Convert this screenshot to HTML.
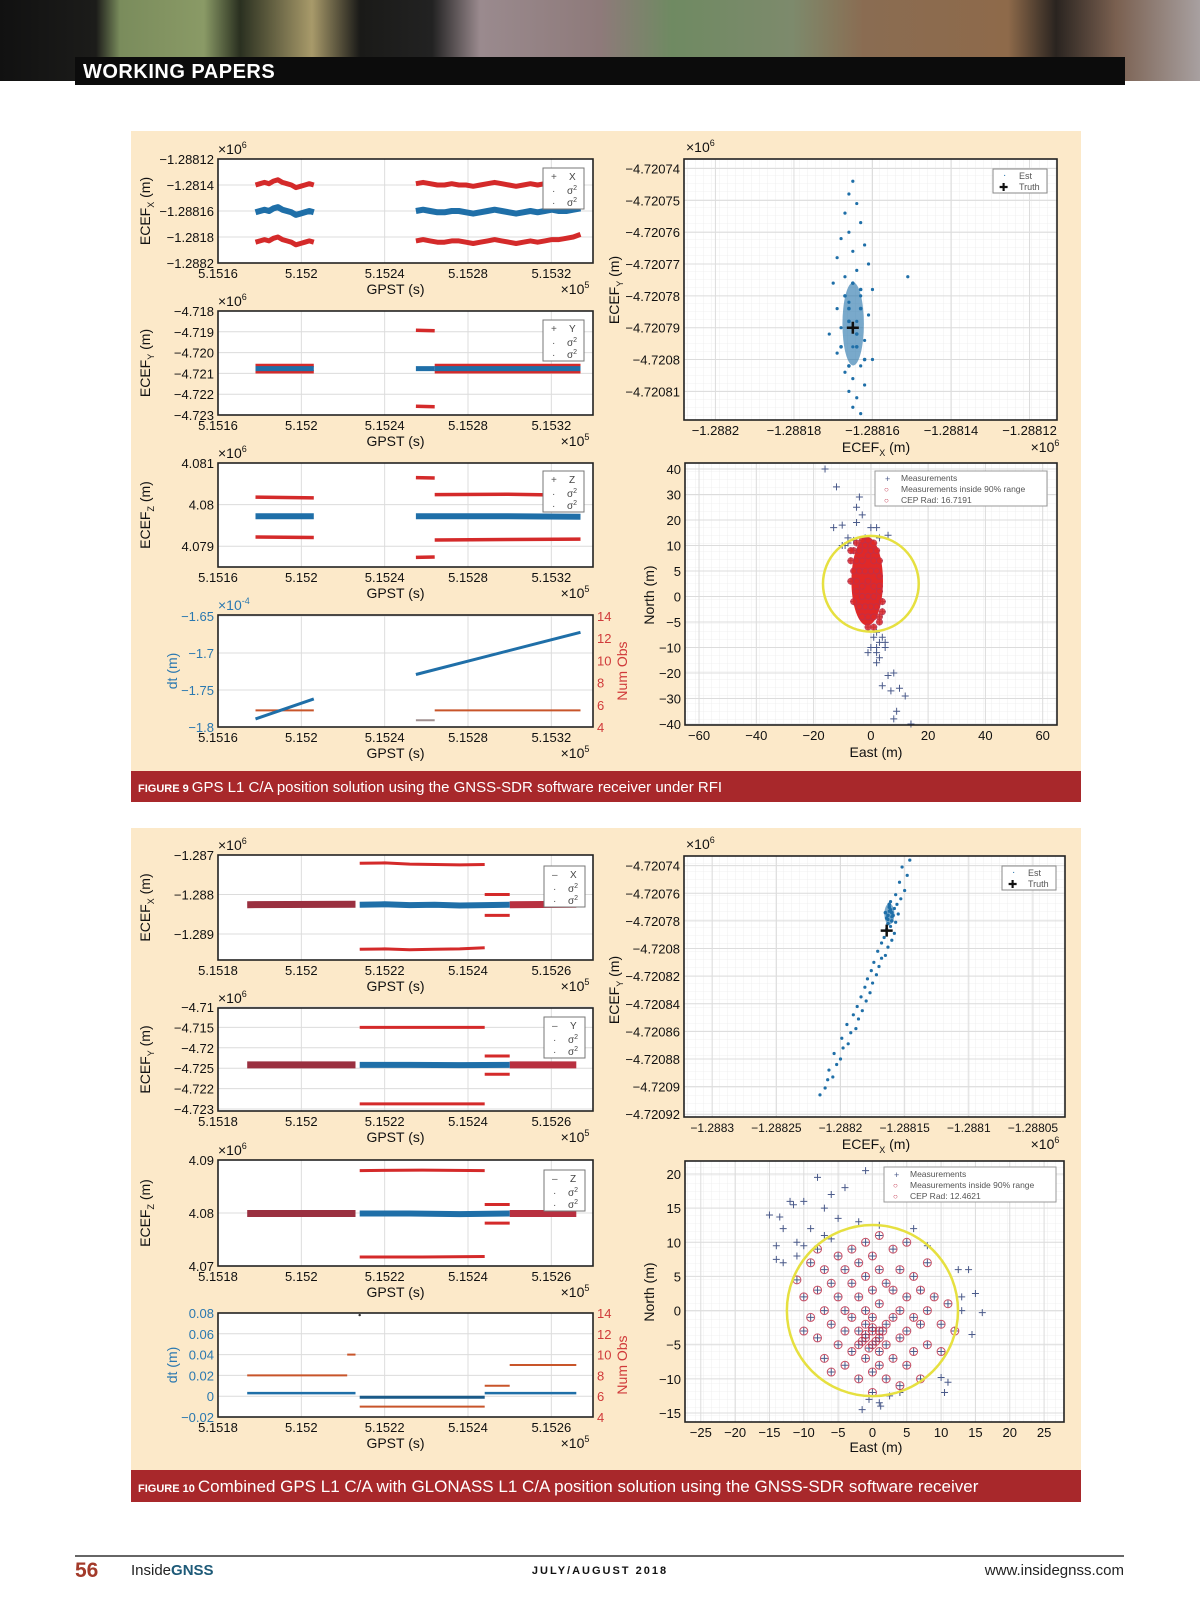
<!DOCTYPE html>
<html><head><meta charset="utf-8"><style>
html,body{margin:0;padding:0;background:#fff;}
svg{display:block;}
text{font-family:"Liberation Sans Narrow","Liberation Sans",sans-serif;}
</style></head><body>
<svg id="chart" xmlns="http://www.w3.org/2000/svg" width="1200" height="1613" viewBox="0 0 1200 1613">
<defs>
<linearGradient id="sat" x1="0" x2="1" y1="0" y2="0">
<stop offset="0" stop-color="#111"/><stop offset="0.08" stop-color="#1c1c1a"/><stop offset="0.1" stop-color="#7a8c5c"/>
<stop offset="0.17" stop-color="#8a9a66"/><stop offset="0.2" stop-color="#2a3020"/><stop offset="0.26" stop-color="#a89a6a"/>
<stop offset="0.3" stop-color="#1a1a18"/><stop offset="0.36" stop-color="#222"/><stop offset="0.4" stop-color="#9a8a8e"/>
<stop offset="0.5" stop-color="#8e7a7a"/><stop offset="0.56" stop-color="#6f8a62"/><stop offset="0.66" stop-color="#7d8a6c"/>
<stop offset="0.72" stop-color="#8a6c52"/><stop offset="0.84" stop-color="#8e6a4a"/><stop offset="0.88" stop-color="#2a2420"/>
<stop offset="0.93" stop-color="#7a6050"/><stop offset="1" stop-color="#a8a0a0"/>
</linearGradient>
<pattern id="minor" width="8" height="8" patternUnits="userSpaceOnUse"><path d="M8 0V8M0 8H8" stroke="#ececec" stroke-width="0.8" fill="none"/></pattern>
</defs>
<rect x="0" y="0" width="1200" height="81" fill="url(#sat)"/>
<rect x="75" y="57" width="1050" height="28" fill="#0c0c0c"/>
<text x="83" y="78" fill="#fff" font-size="20" font-weight="bold" letter-spacing="0.5">WORKING PAPERS</text>
<rect x="131" y="131" width="950" height="671" fill="#fce9c9"/>
<rect x="131" y="771" width="950" height="31" fill="#a8282b"/>
<text x="138" y="792" fill="#fff" font-size="15"><tspan font-size="11" font-weight="bold">FIGURE 9 </tspan>GPS L1 C/A position solution using the GNSS-SDR software receiver under RFI</text>
<rect x="131" y="828" width="950" height="674" fill="#fce9c9"/>
<rect x="131" y="1470" width="950" height="32" fill="#a8282b"/>
<text x="138" y="1492" fill="#fff" font-size="17"><tspan font-size="11" font-weight="bold">FIGURE 10 </tspan>Combined GPS L1 C/A with GLONASS L1 C/A position solution using the GNSS-SDR software receiver</text>
<line x1="75" y1="1556" x2="1124" y2="1556" stroke="#333" stroke-width="1.5"/>
<text x="75" y="1577" fill="#a33a2a" font-size="21" font-weight="bold">56</text>
<text x="131" y="1575" font-size="15" fill="#222">Inside<tspan fill="#1d5a78" font-weight="bold">GNSS</tspan></text>
<text x="600" y="1574" font-size="11" font-weight="bold" letter-spacing="2" text-anchor="middle" fill="#111">JULY/AUGUST 2018</text>
<text x="1124" y="1575" font-size="15" text-anchor="end" fill="#222">www.insidegnss.com</text>
<g id="plots"></g>
</svg>
<script>
// ---------- DATA ----------
const f9XTicks = [5.1516, 5.152, 5.1524, 5.1528, 5.1532];
const f9XTickLabels = ['5.1516', '5.152', '5.1524', '5.1528', '5.1532'];
const f9SegA = [5.15178, 5.15206];
const f9SegB = [5.15255, 5.15334];
const f9SegB1 = [5.15255, 5.15264];
const f9SegB2 = [5.15264, 5.15334];
const f9XYTicks = [-1288120, -1288140, -1288160, -1288180, -1288200];
const f9XYLabels = ['−1.28812', '−1.2814', '−1.28816', '−1.2818', '−1.2882'];
const f9XEstA = [-1288161,-1288160,-1288159,-1288160,-1288158,-1288157,-1288159,-1288160,-1288161,-1288163,-1288162,-1288161,-1288160,-1288161];
const f9XUpA = [-1288140,-1288139,-1288138,-1288139,-1288137,-1288136,-1288138,-1288139,-1288140,-1288142,-1288141,-1288140,-1288139,-1288140];
const f9XLoA = [-1288184,-1288183,-1288182,-1288183,-1288181,-1288180,-1288182,-1288183,-1288184,-1288186,-1288185,-1288184,-1288183,-1288184];
const f9XEstB = [-1288160,-1288159,-1288160,-1288161,-1288161,-1288160,-1288160,-1288161,-1288162,-1288161,-1288160,-1288159,-1288160,-1288161,-1288162,-1288161,-1288160,-1288161,-1288160,-1288159,-1288160,-1288160,-1288159,-1288158];
const f9XUpB = [-1288139,-1288138,-1288139,-1288140,-1288140,-1288139,-1288140,-1288140,-1288141,-1288140,-1288139,-1288138,-1288139,-1288140,-1288141,-1288140,-1288139,-1288140,-1288139,-1288138,-1288139,-1288139,-1288138,-1288137];
const f9XLoB = [-1288183,-1288182,-1288183,-1288184,-1288184,-1288183,-1288183,-1288184,-1288185,-1288184,-1288183,-1288182,-1288183,-1288184,-1288185,-1288184,-1288183,-1288184,-1288183,-1288182,-1288182,-1288181,-1288180,-1288178];
const f9YYTicks = [-4.718, -4.719, -4.720, -4.721, -4.722, -4.723];
const f9YYLabels = ['−4.718', '−4.719', '−4.720', '−4.721', '−4.722', '−4.723'];
const f9YEstA = [-4.72077, -4.72077];
const f9YUpA = [-4.72062, -4.72062];
const f9YLoA = [-4.72092, -4.72092];
const f9YEstB1 = [-4.72077, -4.72077];
const f9YUpB1 = [-4.71893, -4.71895];
const f9YLoB1 = [-4.72258, -4.72260];
const f9YEstB2 = [-4.72077, -4.72077];
const f9YUpB2 = [-4.72062, -4.72062];
const f9YLoB2 = [-4.72092, -4.72092];
const f9ZYTicks = [4.081, 4.080, 4.079];
const f9ZYLabels = ['4.081', '4.08', '4.079'];
const f9ZEstA = [4.07972, 4.07972];
const f9ZUpA = [4.08018, 4.08016];
const f9ZLoA = [4.07922, 4.07921];
const f9ZEstB = [4.07972, 4.07972, 4.07971];
const f9ZUpB1 = [4.08065, 4.08064];
const f9ZLoB1 = [4.07873, 4.07874];
const f9ZUpB2 = [4.08024, 4.08025, 4.08022];
const f9ZLoB2 = [4.07915, 4.07916, 4.07917];
const f9DtTicks = [-1.65, -1.7, -1.75, -1.8];
const f9DtLabels = ['−1.65', '−1.7', '−1.75', '−1.8'];
const obsTicks = [14, 12, 10, 8, 6, 4];
const f9DtA = [-1.789, -1.762];
const f9DtB = [-1.729, -1.672];
const f9ObsA = [5.5, 5.5];
const f9ObsB1 = [4.6, 4.6];
const f9ObsB2 = [5.5, 5.5];
const f9ScX = [-1288165,-1288166,-1288164,-1288167,-1288163,-1288166,-1288168,-1288162,-1288165,-1288169,-1288161,-1288164,-1288167,-1288170,-1288160,-1288163,-1288166,-1288169,-1288161,-1288164,-1288168,-1288171,-1288162,-1288165,-1288169,-1288160,-1288163,-1288167,-1288165,-1288162,-1288166,-1288164,-1288165,-1288163,-1288151];
const f9ScY = [-4720744,-4720748,-4720751,-4720754,-4720757,-4720760,-4720762,-4720764,-4720766,-4720768,-4720770,-4720772,-4720774,-4720776,-4720778,-4720780,-4720782,-4720784,-4720786,-4720788,-4720790,-4720792,-4720794,-4720796,-4720798,-4720800,-4720802,-4720804,-4720806,-4720808,-4720810,-4720812,-4720815,-4720817,-4720774];
const f9CoreX = [-1288165,-1288167,-1288163,-1288166,-1288164,-1288168,-1288162,-1288165,-1288166,-1288164,-1288166,-1288163];
const f9CoreY = [-4720776,-4720780,-4720784,-4720788,-4720792,-4720796,-4720800,-4720790,-4720784,-4720796,-4720802,-4720778];
const f9Truth = [-1288165, -4720790];
const f9ScXTicks = [-1288200, -1288180, -1288160, -1288140, -1288120];
const f9ScXLabels = ['−1.2882', '−1.28818', '−1.28816', '−1.28814', '−1.28812'];
const f9ScYTicks = [-4720740, -4720750, -4720760, -4720770, -4720780, -4720790, -4720800, -4720810];
const f9ScYLabels = ['−4.72074','−4.72075','−4.72076','−4.72077','−4.72078','−4.72079','−4.7208','−4.72081'];
const f9EnuXTicks = [-60, -40, -20, 0, 20, 40, 60];
const f9EnuYTicks = [40, 30, 20, 10, 5, 0, -5, -10, -20, -30, -40];
const f9MeasE = [-16,-12,-4,-5,-3,-10,-13,-8,-5,0,2,6,-8,-9,-6,-2,3,-10,2,4,1,3,0,5,2,2,5,-1,3,2,8,6,10,7,4,12,9,8,14];
const f9MeasN = [40,33,29,25,22,18,17,13,19,17,17,14,11,10,12,13,13,10,-7,-8,-8,-9,-10,-10,-12,-10,-9,-12,-14,-16,-20,-21,-26,-27,-25,-29,-35,-38,-40];
const f9InE = [-5,-3,-1,1,-6,-4,-2,0,2,-7,-5,-3,-1,1,3,-6,-4,-2,0,2,3,-7,-5,-3,-1,1,3,-5,-3,-1,1,3,4,-4,-2,0,2,4,-3,-1,1,3,-1,1,3,-7,-6];
const f9InN = [11,12,12,11,9,9,10,9,9,7,7,7,8,7,7,5,5,5,5,5,4,3,3,2,3,2,2,1,0,0,0,1,-1,-2,-2,-2,-2,-3,-4,-4,-4,-4,-6,-6,-5,9,-1];
const f9Cep = [0, 2.5, 16.7191];
const f10XTicks = [5.1518, 5.152, 5.1522, 5.1524, 5.1526];
const f10XTickLabels = ['5.1518', '5.152', '5.1522', '5.1524', '5.1526'];
const f10SegA = [5.15187, 5.15213];
const f10SegB = [5.15214, 5.15244];
const f10SegC = [5.15244, 5.1525];
const f10SegD = [5.1525, 5.15266];
const f10XYTicks = [-1.287, -1.288, -1.289];
const f10XYLabels = ['−1.287', '−1.288', '−1.289'];
const f10XEst = [-1.28826, -1.28825, -1.28827, -1.28826, -1.28828, -1.28827, -1.28826];
const f10XUpB = [-1.28721, -1.28720, -1.28723, -1.28724, -1.28725, -1.28724];
const f10XLoB = [-1.28939, -1.28938, -1.28940, -1.28939, -1.28938, -1.28935];
const f10XUpC = [-1.28800, -1.28800];
const f10XLoC = [-1.28853, -1.28853];
const f10YYTicks = [0, 1, 2, 3, 4, 5];
const f10YYLabels = ['−4.71', '−4.715', '−4.72', '−4.725', '−4.722', '−4.723'];
const f10YEst = [2.84, 2.84, 2.85, 2.84];
const f10YUpB = [1.0, 1.0];
const f10YLoB = [4.75, 4.75];
const f10YUpC = [2.4, 2.4];
const f10YLoC = [3.3, 3.3];
const f10ZYTicks = [4.09, 4.08, 4.07];
const f10ZYLabels = ['4.09', '4.08', '4.07'];
const f10ZEst = [4.0799, 4.0799, 4.0798, 4.0799];
const f10ZUpB = [4.0880, 4.0881, 4.0880];
const f10ZLoB = [4.0717, 4.0717, 4.0718];
const f10ZUpC = [4.0816, 4.0816];
const f10ZLoC = [4.0781, 4.0781];
const f10DtTicks = [0.08, 0.06, 0.04, 0.02, 0, -0.02];
const f10DtLabels = ['0.08', '0.06', '0.04', '0.02', '0', '−0.02'];
const f10DtA = [0.003, 0.003];
const f10DtB = [-0.001, -0.001];
const f10DtC = [0.003, 0.003];
const f10ObsSegs = [[5.15187, 5.15211], [5.15211, 5.15213], [5.15214, 5.15244], [5.15244, 5.1525], [5.1525, 5.15266]];
const f10ObsVals = [8, 10, 5, 7, 9];
const f10ScX = [-1288216,-1288212,-1288210,-1288206,-1288209,-1288203,-1288200,-1288205,-1288198,-1288194,-1288199,-1288192,-1288188,-1288195,-1288186,-1288190,-1288183,-1288187,-1288180,-1288184,-1288177,-1288181,-1288175,-1288179,-1288172,-1288176,-1288170,-1288174,-1288168,-1288165,-1288171,-1288163,-1288168,-1288160,-1288166,-1288158,-1288164,-1288161,-1288157,-1288163,-1288160,-1288155,-1288162,-1288158,-1288156,-1288161,-1288153,-1288157,-1288150,-1288154,-1288148,-1288152,-1288146];
const f10ScY = [-4720906,-4720901,-4720895,-4720893,-4720888,-4720884,-4720880,-4720876,-4720872,-4720869,-4720865,-4720861,-4720858,-4720855,-4720851,-4720848,-4720845,-4720842,-4720838,-4720835,-4720832,-4720828,-4720825,-4720822,-4720819,-4720816,-4720813,-4720810,-4720807,-4720805,-4720802,-4720799,-4720796,-4720794,-4720792,-4720789,-4720786,-4720784,-4720781,-4720779,-4720777,-4720775,-4720773,-4720771,-4720768,-4720766,-4720764,-4720761,-4720758,-4720752,-4720747,-4720741,-4720736];
const f10CoreX = [-1288162,-1288160,-1288164,-1288161,-1288163,-1288159,-1288162,-1288165,-1288160,-1288163];
const f10CoreY = [-4720770,-4720774,-4720778,-4720772,-4720782,-4720776,-4720768,-4720774,-4720780,-4720776];
const f10Truth = [-1288164, -4720787];
const f10ScXTicks = [-1288300, -1288250, -1288200, -1288150, -1288100, -1288050];
const f10ScXLabels = ['−1.2883', '−1.28825', '−1.2882', '−1.28815', '−1.2881', '−1.28805'];
const f10ScYTicks = [-4720740,-4720760,-4720780,-4720800,-4720820,-4720840,-4720860,-4720880,-4720900,-4720920];
const f10ScYLabels = ['−4.72074','−4.72076','−4.72078','−4.7208','−4.72082','−4.72084','−4.72086','−4.72088','−4.7209','−4.72092'];
const f10EnuXTicks = [-25, -20, -15, -10, -5, 0, 5, 10, 15, 20, 25];
const f10EnuYTicks = [20, 15, 10, 5, 0, -5, -10, -15];
const f10MeasE = [-15,-13.5,-12,-11.5,-10,-8,-6,-4,-1,-13,-14,-14,-13,-11,-10,-11,-9,-7,-5,-2,-7,-6,1,6,8,12.5,14,15,16,13,13,14.5,12,11,10,10.5,-1.5,1,1.2,-0.5,2.5,4];
const f10MeasN = [14,13.7,16,15.5,16,19.5,17,18,20.5,12,9.5,7.5,7,10,9.5,8,12,15,13.5,13,11,10.5,12.5,12,9.5,6,6,2.5,-0.3,2,0,-3.5,-3,-10.5,-9.8,-12,-14.5,-13.5,-14,-13,-12.5,-12];
const f10InE = [-11,-10,-9,-8,-8,-7,-7,-7,-6,-6,-6,-5,-5,-5,-4,-4,-4,-4,-3,-3,-3,-3,-2,-2,-2,-2,-2,-1,-1,-1,-1,-1,-1,0,0,0,0,0,0,0,1,1,1,1,1,1,1,2,2,2,2,3,3,3,3,4,4,4,4,5,5,5,5,6,6,6,7,7,7,8,8,8,9,10,10,11,12,-9,-10,-8,-1,0.5,-0.5,0,1.5,-1.5];
const f10InN = [4.5,2,-1,3,-4,6,0,-7,4,-2,-9,8,2,-5,6,0,-3,-8,9,4,-1,-6,7,2,-3,-5,-10,10,5,0,-2,-4,-7,8,3,-1,-3,-5,-9,-12,11,6,1,-3,-4,-6,-8,4,-2,-5,-10,9,3,-1,-7,6,0,-4,-11,10,2,-3,-8,5,-1,-6,3,-2,-10,7,0,-5,2,-2,-6,1,-3,7,-3,9,-3.5,-4.5,-5.5,-2.5,-3,-4.5];
const f10Cep = [0, 0, 12.4621];

// ---------- HELPERS ----------
const NS = 'http://www.w3.org/2000/svg';
const root = document.getElementById('plots');
function mk(tag, attrs, parent, name) {
  const e = document.createElementNS(NS, tag);
  for (const k in attrs) e.setAttribute(k, attrs[k]);
  
  
  parent.appendChild(e);
  return e;
}
function tx(parent, x, y, s, name, o) {
  o = o || {};
  const e = mk('text', {x: x, y: y, 'font-size': o.size || 13, fill: o.fill || '#111', 'text-anchor': o.anchor || 'start'}, parent, name);
  if (o.rot) e.setAttribute('transform', 'rotate(-90 ' + x + ' ' + y + ')');
  e.innerHTML = s;
  return e;
}
function lin(d0, d1, r0, r1) { return v => r0 + (v - d0) / (d1 - d0) * (r1 - r0); }
function pw(vals, r0, r1) {
  const n = vals.length - 1;
  return v => {
    let i = 0;
    while (i < n - 1 && ((vals[0] > vals[n]) ? v < vals[i + 1] : v > vals[i + 1])) i++;
    return r0 + (i + (v - vals[i]) / (vals[i + 1] - vals[i])) * (r1 - r0) / n;
  };
}
function frame(g, b, name, minor) {
  mk('rect', {x: b[0], y: b[1], width: b[2] - b[0], height: b[3] - b[1], fill: '#fff'}, g, name + '-area');
  if (minor) mk('rect', {x: b[0], y: b[1], width: b[2] - b[0], height: b[3] - b[1], fill: 'url(#minor)'}, g, name + '-minor-grid');
}
function border(g, b, name) {
  mk('rect', {x: b[0], y: b[1], width: b[2] - b[0], height: b[3] - b[1], fill: 'none', stroke: '#222', 'stroke-width': 1.6}, g, name + '-border');
}
function xAxis(g, b, sx, ticks, labels, name, size) {
  ticks.forEach((t, i) => {
    const x = sx(t);
    mk('line', {x1: x, y1: b[1], x2: x, y2: b[3], stroke: '#dcdcdc', 'stroke-width': 1}, g, name + '-gridline');
    tx(g, x, b[3] + 15, labels[i], name + '-tick-label', {anchor: 'middle', size: size || 13});
  });
}
function yAxis(g, b, sy, ticks, labels, name, o) {
  o = o || {};
  ticks.forEach((t, i) => {
    const y = sy(t);
    if (!o.noGrid) mk('line', {x1: b[0], y1: y, x2: b[2], y2: y, stroke: '#dcdcdc', 'stroke-width': 1}, g, name + '-gridline');
    const right = o.right;
    tx(g, right ? b[2] + 4 : b[0] - 4, y + 5, labels[i], name + '-tick-label', {anchor: right ? 'start' : 'end', size: o.size || 13, fill: o.fill || '#111'});
  });
}
function line(g, sx, sy, seg, vals, color, w, name, op) {
  const pts = vals.map((v, i) => (sx(seg[0] + (seg[1] - seg[0]) * i / (vals.length - 1))).toFixed(1) + ',' + sy(v).toFixed(1)).join(' ');
  mk('polyline', {points: pts, fill: 'none', stroke: color, 'stroke-width': w, 'stroke-linejoin': 'round', opacity: op || 1}, g, name);
}
function legendTS(g, x, y, label, plus) {
  mk('rect', {x: x, y: y, width: 41, height: 41, fill: '#fff', stroke: '#777', 'stroke-width': 1}, g, 'legend-box');
  tx(g, x + 8, y + 12, plus ? '+' : '–', 'legend-marker', {size: 10, fill: '#555'});
  tx(g, x + 26, y + 12, label, 'legend-label', {size: 10, fill: '#444'});
  tx(g, x + 9, y + 26, '·', 'legend-marker', {size: 10, fill: '#555'});
  tx(g, x + 24, y + 26, 'σ<tspan dy="-4" font-size="7">2</tspan>', 'legend-label', {size: 10, fill: '#444'});
  tx(g, x + 9, y + 38, '·', 'legend-marker', {size: 10, fill: '#555'});
  tx(g, x + 24, y + 38, 'σ<tspan dy="-4" font-size="7">2</tspan>', 'legend-label', {size: 10, fill: '#444'});
}
function xLabels(g, b, xlab, exp) {
  tx(g, (b[0] + b[2]) / 2 - 10, b[3] + 31, xlab, 'x-axis-title', {anchor: 'middle', size: 14});
  tx(g, b[2] - 18, b[3] + 31, '×10<tspan dy="-6" font-size="9">' + exp + '</tspan>', 'x-axis-exponent', {size: 14, anchor: 'middle'});
}
function stats(xs, ys) {
  const n = xs.length;
  const mx = xs.reduce((a, b) => a + b, 0) / n, my = ys.reduce((a, b) => a + b, 0) / n;
  const sx = Math.sqrt(xs.reduce((a, b) => a + (b - mx) * (b - mx), 0) / n);
  const sy = Math.sqrt(ys.reduce((a, b) => a + (b - my) * (b - my), 0) / n);
  return [mx, my, sx, sy];
}
const BLUE = '#1f6fa8', RED = '#d42a2a', DRED = '#9a3040', ORG = '#c8552a';

function tsPlot(b, xd, xt, xl, ytick, ylab, sy, name, ytitle, legendLbl, plus, exp) {
  const g = mk('g', {}, root, name);
  const sx = lin(xd[0], xd[1], b[0], b[2]);
  frame(g, b, name);
  xAxis(g, b, sx, xt, xl, name + '-x');
  yAxis(g, b, sy, ytick, ylab, name + '-y');
  tx(g, b[0], b[1] - 5, '×10<tspan dy="-6" font-size="9">' + exp + '</tspan>', 'y-axis-exponent', {size: 14});
  tx(g, 150, (b[1] + b[3]) / 2, ytitle, 'y-axis-title', {anchor: 'middle', size: 14, rot: true});
  return {g: g, sx: sx, sy: sy};
}
const F9X = [5.1516, 5.1534];
let p = tsPlot([218, 159, 593, 263], F9X, f9XTicks, f9XTickLabels, f9XYTicks, f9XYLabels, lin(-1288120, -1288200, 159, 263), 'fig9-ecef-x', 'ECEF<tspan dy="4" font-size="9">X</tspan><tspan dy="-4"> (m)</tspan>', 'X', true, '6');
[[f9SegA, f9XUpA, f9XEstA, f9XLoA], [f9SegB, f9XUpB, f9XEstB, f9XLoB]].forEach(s => {
  line(p.g, p.sx, p.sy, s[0], s[1], RED, 5, 'sigma-upper-line');
  line(p.g, p.sx, p.sy, s[0], s[3], RED, 5, 'sigma-lower-line');
  line(p.g, p.sx, p.sy, s[0], s[2], BLUE, 6, 'estimate-line');
});
legendTS(p.g, 543, 168, 'X', true); border(p.g, [218, 159, 593, 263], 'fig9-ecef-x');
xLabels(p.g, [218, 159, 593, 263], 'GPST (s)', '5');

p = tsPlot([218, 311, 593, 415], F9X, f9XTicks, f9XTickLabels, f9YYTicks, f9YYLabels, lin(-4.718, -4.723, 311, 415), 'fig9-ecef-y', 'ECEF<tspan dy="4" font-size="9">Y</tspan><tspan dy="-4"> (m)</tspan>', 'Y', true, '6');
[[f9SegA, f9YUpA, f9YEstA, f9YLoA], [f9SegB1, f9YUpB1, f9YEstB1, f9YLoB1], [f9SegB2, f9YUpB2, f9YEstB2, f9YLoB2]].forEach(s => {
  line(p.g, p.sx, p.sy, s[0], s[1], RED, 3.5, 'sigma-upper-line');
  line(p.g, p.sx, p.sy, s[0], s[3], RED, 3.5, 'sigma-lower-line');
  line(p.g, p.sx, p.sy, s[0], s[2], BLUE, 5, 'estimate-line');
});
legendTS(p.g, 543, 320, 'Y', true); border(p.g, [218, 311, 593, 415], 'fig9-ecef-y');
xLabels(p.g, [218, 311, 593, 415], 'GPST (s)', '5');

p = tsPlot([218, 463, 593, 567], F9X, f9XTicks, f9XTickLabels, f9ZYTicks, f9ZYLabels, lin(4.081, 4.0785, 463, 567), 'fig9-ecef-z', 'ECEF<tspan dy="4" font-size="9">Z</tspan><tspan dy="-4"> (m)</tspan>', 'Z', true, '6');
[[f9SegA, f9ZUpA, f9ZEstA, f9ZLoA], [f9SegB1, f9ZUpB1, null, f9ZLoB1], [f9SegB2, f9ZUpB2, null, f9ZLoB2]].forEach(s => {
  line(p.g, p.sx, p.sy, s[0], s[1], RED, 3.5, 'sigma-upper-line');
  line(p.g, p.sx, p.sy, s[0], s[3], RED, 3.5, 'sigma-lower-line');
  if (s[2]) line(p.g, p.sx, p.sy, s[0], s[2], BLUE, 6, 'estimate-line');
});
line(p.g, p.sx, p.sy, f9SegB, f9ZEstB, BLUE, 6, 'estimate-line');
legendTS(p.g, 543, 471, 'Z', true); border(p.g, [218, 463, 593, 567], 'fig9-ecef-z');
xLabels(p.g, [218, 463, 593, 567], 'GPST (s)', '5');

(function () {
  const b = [218, 615, 593, 727];
  const g = mk('g', {}, root, 'fig9-clock');
  const sx = lin(F9X[0], F9X[1], b[0], b[2]);
  const sy = lin(-1.65, -1.8, 616, 727);
  const so = lin(14, 4, 616, 727);
  frame(g, b, 'fig9-clock');
  xAxis(g, b, sx, f9XTicks, f9XTickLabels, 'fig9-clock-x');
  yAxis(g, b, sy, f9DtTicks, f9DtLabels, 'fig9-clock-y', {fill: '#2a78b0'});
  yAxis(g, b, so, obsTicks, obsTicks.map(String), 'fig9-obs-y', {right: true, noGrid: true, fill: '#d03a3a'});
  tx(g, b[0], b[1] - 5, '×10<tspan dy="-6" font-size="9">-4</tspan>', 'y-axis-exponent', {size: 14, fill: '#2a78b0'});
  tx(g, 177, 671, 'dt (m)', 'y-axis-title', {anchor: 'middle', size: 14, rot: true, fill: '#2a78b0'});
  tx(g, 627, 671, 'Num Obs', 'right-axis-title', {anchor: 'middle', size: 14, rot: true, fill: '#d03a3a'});
  line(g, sx, so, f9SegA, f9ObsA, ORG, 2, 'num-obs-line');
  line(g, sx, so, f9SegB1, f9ObsB1, '#a09090', 2, 'num-obs-line');
  line(g, sx, so, f9SegB2, f9ObsB2, ORG, 2, 'num-obs-line');
  line(g, sx, sy, f9SegA, f9DtA, BLUE, 3, 'clock-bias-line');
  line(g, sx, sy, f9SegB, f9DtB, BLUE, 3, 'clock-bias-line');
  border(g, b, 'fig9-clock');
  xLabels(g, b, 'GPST (s)', '5');
})();

function ecefScatter(b, sx, sy, xt, xl, yt, yl, X, Y, CX, CY, truth, name, tsize) {
  const g = mk('g', {}, root, name);
  frame(g, b, name, true);
  xAxis(g, b, sx, xt, xl, name + '-x', tsize);
  yAxis(g, b, sy, yt, yl, name + '-y');
  const st = stats(CX.map(sx), CY.map(sy));
  mk('ellipse', {cx: st[0], cy: st[1], rx: st[2] * 1.3 + 2, ry: st[3] * 1.5 + 2, fill: BLUE, opacity: 0.6}, g, 'dense-core');
  X.forEach((v, i) => mk('circle', {cx: sx(v), cy: sy(Y[i]), r: 1.6, fill: BLUE}, g, 'estimate-point'));
  CX.forEach((v, i) => mk('circle', {cx: sx(v), cy: sy(CY[i]), r: 1.8, fill: BLUE}, g, 'estimate-point'));
  const tx0 = sx(truth[0]), ty0 = sy(truth[1]);
  mk('path', {d: 'M' + (tx0 - 6) + ' ' + ty0 + 'H' + (tx0 + 6) + 'M' + tx0 + ' ' + (ty0 - 6) + 'V' + (ty0 + 6), stroke: '#111', 'stroke-width': 2.5}, g, 'truth-marker');
  border(g, b, name);
  return g;
}
function ecefLegend(g, x, y) {
  mk('rect', {x: x, y: y, width: 54, height: 24, fill: '#fff', stroke: '#888'}, g, 'legend-box');
  tx(g, x + 10, y + 9, '·', 'legend-marker', {size: 10, fill: BLUE});
  tx(g, x + 26, y + 10, 'Est', 'legend-label', {size: 9, fill: '#555'});
  tx(g, x + 6, y + 22, '✚', 'legend-marker', {size: 11});
  tx(g, x + 26, y + 21, 'Truth', 'legend-label', {size: 9, fill: '#555'});
}
function enuScatter(b, sx, sy, xt, yt, ME, MN, IE, IN, cep, name, dense) {
  const g = mk('g', {}, root, name);
  frame(g, b, name, true);
  xAxis(g, b, sx, xt, xt.map(v => v < 0 ? '−' + (-v) : String(v)), name + '-x');
  yAxis(g, b, sy, yt, yt.map(v => v < 0 ? '−' + (-v) : String(v)), name + '-y');
  const cross = (x, y, c, nm) => mk('path', {d: 'M' + (x - 3.5) + ' ' + y + 'H' + (x + 3.5) + 'M' + x + ' ' + (y - 3.5) + 'V' + (y + 3.5), stroke: c, 'stroke-width': 1}, g, nm);
  ME.forEach((v, i) => cross(sx(v), sy(MN[i]), '#4a5a8a', 'measurement-marker'));
  IE.forEach((v, i) => cross(sx(v), sy(IN[i]), '#4a5a8a', 'measurement-marker'));
  if (dense) {
    const st = stats(IE.map(sx), IN.map(sy));
    mk('ellipse', {cx: st[0], cy: st[1], rx: st[2] * 1.7, ry: st[3] * 1.7, fill: '#e02828'}, g, 'dense-core');
  }
  IE.forEach((v, i) => mk('circle', {cx: sx(v), cy: sy(IN[i]), r: dense ? 3 : 4, fill: dense ? '#e02828' : 'none', stroke: '#c0304a', 'stroke-width': 1, opacity: 0.85}, g, 'inside-90-marker'));
  const r = Math.abs(sx(cep[2]) - sx(0));
  mk('circle', {cx: sx(cep[0]), cy: sy(cep[1]), r: r, fill: 'none', stroke: '#e6e040', 'stroke-width': 2.5}, g, 'cep-circle');
  border(g, b, name);
  return g;
}
function enuLegend(g, x, y, rad) {
  mk('rect', {x: x, y: y, width: 172, height: 35, fill: '#fff', stroke: '#999'}, g, 'legend-box');
  tx(g, x + 10, y + 11, '+', 'legend-marker', {size: 9, fill: '#4a5a8a'});
  tx(g, x + 26, y + 10, 'Measurements', 'legend-label', {size: 8.5, fill: '#555'});
  tx(g, x + 9, y + 21, '○', 'legend-marker', {size: 8, fill: '#c0304a'});
  tx(g, x + 26, y + 21, 'Measurements inside 90% range', 'legend-label', {size: 8.5, fill: '#555'});
  tx(g, x + 9, y + 32, '○', 'legend-marker', {size: 8, fill: '#c0304a'});
  tx(g, x + 26, y + 32, 'CEP Rad: ' + rad, 'legend-label', {size: 8.5, fill: '#555'});
}

let b9 = [684, 159, 1057, 420];
let gs = ecefScatter(b9, lin(-1288208, -1288113, 684, 1057), lin(-4720737, -4720819, 159, 420), f9ScXTicks, f9ScXLabels, f9ScYTicks, f9ScYLabels, f9ScX, f9ScY, f9CoreX, f9CoreY, f9Truth, 'fig9-ecef-scatter');
ecefLegend(gs, 993, 169);
tx(gs, 686, 152, '×10<tspan dy="-6" font-size="9">6</tspan>', 'y-axis-exponent', {size: 14});
tx(gs, 876, 452, 'ECEF<tspan dy="4" font-size="9">X</tspan><tspan dy="-4"> (m)</tspan>', 'x-axis-title', {anchor: 'middle', size: 14});
tx(gs, 1045, 452, '×10<tspan dy="-6" font-size="9">6</tspan>', 'x-axis-exponent', {anchor: 'middle', size: 14});
tx(gs, 619, 290, 'ECEF<tspan dy="4" font-size="9">Y</tspan><tspan dy="-4"> (m)</tspan>', 'y-axis-title', {anchor: 'middle', rot: true, size: 14});

b9 = [685, 463, 1057, 725];
gs = enuScatter(b9, lin(-64.9, 65, 685, 1057), pw(f9EnuYTicks, 469, 724), f9EnuXTicks, f9EnuYTicks, f9MeasE, f9MeasN, f9InE, f9InN, f9Cep, 'fig9-enu-scatter', true);
enuLegend(gs, 875, 471, '16.7191');
tx(gs, 876, 757, 'East (m)', 'x-axis-title', {anchor: 'middle', size: 14});
tx(gs, 654, 595, 'North (m)', 'y-axis-title', {anchor: 'middle', rot: true, size: 14});

const F10X = [5.1518, 5.1527];
p = tsPlot([218, 855, 593, 960], F10X, f10XTicks, f10XTickLabels, f10XYTicks, f10XYLabels, lin(-1.287, -1.28966, 855, 960), 'fig10-ecef-x', 'ECEF<tspan dy="4" font-size="9">X</tspan><tspan dy="-4"> (m)</tspan>', 'X', false, '6');
function f10bands(p, est, upB, loB, upC, loC) {
  line(p.g, p.sx, p.sy, f10SegA, [est[0], est[1]], DRED, 7, 'sigma-band');
  line(p.g, p.sx, p.sy, f10SegD, [est[0], est[1]], '#b83040', 7, 'sigma-band');
  line(p.g, p.sx, p.sy, f10SegB, upB, RED, 3, 'sigma-upper-line');
  line(p.g, p.sx, p.sy, f10SegB, loB, RED, 3, 'sigma-lower-line');
  line(p.g, p.sx, p.sy, f10SegC, upC, RED, 3, 'sigma-upper-line');
  line(p.g, p.sx, p.sy, f10SegC, loC, RED, 3, 'sigma-lower-line');
  line(p.g, p.sx, p.sy, [f10SegB[0], f10SegC[1]], est, BLUE, 6, 'estimate-line');
}
f10bands(p, f10XEst, f10XUpB, f10XLoB, f10XUpC, f10XLoC);
legendTS(p.g, 544, 866, 'X', false); border(p.g, [218, 855, 593, 960], 'fig10-ecef-x');
xLabels(p.g, [218, 855, 593, 960], 'GPST (s)', '5');

p = tsPlot([218, 1008, 593, 1111], F10X, f10XTicks, f10XTickLabels, f10YYTicks, f10YYLabels, lin(0, 5, 1007, 1109), 'fig10-ecef-y', 'ECEF<tspan dy="4" font-size="9">Y</tspan><tspan dy="-4"> (m)</tspan>', 'Y', false, '6');
f10bands(p, f10YEst, f10YUpB, f10YLoB, f10YUpC, f10YLoC);
legendTS(p.g, 544, 1017, 'Y', false); border(p.g, [218, 1008, 593, 1111], 'fig10-ecef-y');
xLabels(p.g, [218, 1008, 593, 1111], 'GPST (s)', '5');

p = tsPlot([218, 1160, 593, 1266], F10X, f10XTicks, f10XTickLabels, f10ZYTicks, f10ZYLabels, lin(4.09, 4.07, 1160, 1266), 'fig10-ecef-z', 'ECEF<tspan dy="4" font-size="9">Z</tspan><tspan dy="-4"> (m)</tspan>', 'Z', false, '6');
f10bands(p, f10ZEst, f10ZUpB, f10ZLoB, f10ZUpC, f10ZLoC);
legendTS(p.g, 544, 1170, 'Z', false); border(p.g, [218, 1160, 593, 1266], 'fig10-ecef-z');
xLabels(p.g, [218, 1160, 593, 1266], 'GPST (s)', '5');

(function () {
  const b = [218, 1313, 593, 1417];
  const g = mk('g', {}, root, 'fig10-clock');
  const sx = lin(F10X[0], F10X[1], b[0], b[2]);
  const sy = lin(0.08, -0.02, 1313, 1417);
  const so = lin(14, 4, 1313, 1417);
  frame(g, b, 'fig10-clock');
  xAxis(g, b, sx, f10XTicks, f10XTickLabels, 'fig10-clock-x');
  yAxis(g, b, sy, f10DtTicks, f10DtLabels, 'fig10-clock-y', {fill: '#2a78b0'});
  yAxis(g, b, so, obsTicks, obsTicks.map(String), 'fig10-obs-y', {right: true, noGrid: true, fill: '#d03a3a'});
  tx(g, 177, 1365, 'dt (m)', 'y-axis-title', {anchor: 'middle', size: 14, rot: true, fill: '#2a78b0'});
  tx(g, 627, 1365, 'Num Obs', 'right-axis-title', {anchor: 'middle', size: 14, rot: true, fill: '#d03a3a'});
  f10ObsSegs.forEach((s, i) => line(g, sx, so, s, [f10ObsVals[i], f10ObsVals[i]], ORG, 2, 'num-obs-line'));
  line(g, sx, sy, f10SegA, f10DtA, BLUE, 2.5, 'clock-bias-line');
  line(g, sx, sy, [f10SegB[0], f10SegB[1]], f10DtB, '#1a5a88', 3, 'clock-bias-line');
  line(g, sx, sy, [f10SegC[0], f10SegD[1]], f10DtC, BLUE, 2.5, 'clock-bias-line');
  mk('circle', {cx: sx(5.15214), cy: sy(0.078), r: 1.2, fill: '#333'}, g, 'outlier-point');
  border(g, b, 'fig10-clock');
  xLabels(g, b, 'GPST (s)', '5');
})();

let b10 = [684, 856, 1065, 1117];
gs = ecefScatter(b10, lin(-1288322, -1288025, 684, 1065), lin(-4720733, -4720922, 856, 1117), f10ScXTicks, f10ScXLabels, f10ScYTicks, f10ScYLabels, f10ScX, f10ScY, f10CoreX, f10CoreY, f10Truth, 'fig10-ecef-scatter', 12);
ecefLegend(gs, 1002, 866);
tx(gs, 686, 849, '×10<tspan dy="-6" font-size="9">6</tspan>', 'y-axis-exponent', {size: 14});
tx(gs, 876, 1149, 'ECEF<tspan dy="4" font-size="9">X</tspan><tspan dy="-4"> (m)</tspan>', 'x-axis-title', {anchor: 'middle', size: 14});
tx(gs, 1045, 1149, '×10<tspan dy="-6" font-size="9">6</tspan>', 'x-axis-exponent', {anchor: 'middle', size: 14});
tx(gs, 619, 990, 'ECEF<tspan dy="4" font-size="9">Y</tspan><tspan dy="-4"> (m)</tspan>', 'y-axis-title', {anchor: 'middle', rot: true, size: 14});

b10 = [685, 1161, 1064, 1422];
gs = enuScatter(b10, lin(-27.3, 27.9, 685, 1064), lin(20, -15, 1174, 1413), f10EnuXTicks, f10EnuYTicks, f10MeasE, f10MeasN, f10InE, f10InN, f10Cep, 'fig10-enu-scatter', false);
enuLegend(gs, 884, 1167, '12.4621');
tx(gs, 876, 1452, 'East (m)', 'x-axis-title', {anchor: 'middle', size: 14});
tx(gs, 654, 1292, 'North (m)', 'y-axis-title', {anchor: 'middle', rot: true, size: 14});
</script>
</body></html>
